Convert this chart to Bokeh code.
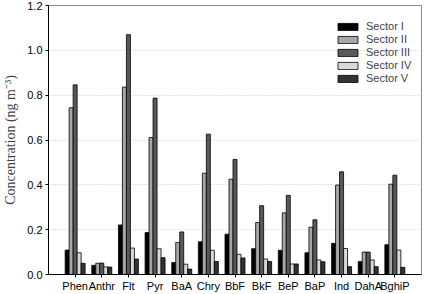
from bokeh.plotting import figure
from bokeh.models import ColumnDataSource, FixedTicker, Legend, LegendItem
from bokeh.transform import dodge
from bokeh.embed import file_html
from bokeh.resources import INLINE

# PAH species measured in each sector
compounds = ["Phen", "Anthr", "Flt", "Pyr", "BaA", "Chry", "BbF",
             "BkF", "BeP", "BaP", "Ind", "DahA", "BghiP"]
positions = list(range(1, len(compounds) + 1))

# Mean concentrations (ng m-3) per sector
sector_1 = [0.109, 0.041, 0.221, 0.187, 0.053, 0.146, 0.180, 0.115, 0.108, 0.097, 0.139, 0.058, 0.133]
sector_2 = [0.744, 0.050, 0.836, 0.611, 0.143, 0.452, 0.425, 0.232, 0.275, 0.211, 0.399, 0.100, 0.403]
sector_3 = [0.846, 0.051, 1.070, 0.787, 0.190, 0.626, 0.513, 0.307, 0.353, 0.244, 0.458, 0.100, 0.443]
sector_4 = [0.097, 0.034, 0.118, 0.115, 0.046, 0.108, 0.090, 0.069, 0.047, 0.065, 0.116, 0.065, 0.109]
sector_5 = [0.050, 0.033, 0.069, 0.075, 0.024, 0.058, 0.074, 0.058, 0.047, 0.057, 0.035, 0.035, 0.032]

sector_names = ["Sector I", "Sector II", "Sector III", "Sector IV", "Sector V"]
y_ticks = [0.0, 0.2, 0.4, 0.6, 0.8, 1.0, 1.2]

source = ColumnDataSource(dict(
    x=positions, s1=sector_1, s2=sector_2, s3=sector_3, s4=sector_4, s5=sector_5,
))

p = figure(width=425, height=294, x_range=(0, 14), y_range=(0, 1.2),
           output_backend="svg", toolbar_location=None,
           min_border_left=0, min_border_right=4, min_border_top=5, min_border_bottom=0)

fills = ["#000000", "#a6a6a6", "#595959", "#d9d9d9", "#333333"]
offsets = [-0.3, -0.15, 0.0, 0.15, 0.3]
fields = ["s1", "s2", "s3", "s4", "s5"]

items = []
for name, field, off, col in zip(sector_names, fields, offsets, fills):
    r = p.vbar(x=dodge("x", off), top=field, width=0.15, source=source,
               fill_color=col, line_color="#000000", line_width=0.8)
    items.append(LegendItem(label=name, renderers=[r]))

legend = Legend(items=items, location=(287, 190),
                glyph_width=25, glyph_height=9, label_height=9,
                spacing=1, padding=4, margin=0, label_standoff=6,
                label_text_font="Liberation Sans", label_text_font_size="11px",
                border_line_color=None, background_fill_alpha=0)
p.add_layout(legend)

# axes
p.xaxis.ticker = FixedTicker(ticks=positions)
p.xaxis.major_label_overrides = {i: c for i, c in zip(positions, compounds)}
p.yaxis.ticker = FixedTicker(ticks=y_ticks)
p.yaxis.major_label_overrides = {t: f"{t:.1f}" for t in y_ticks}

for ax in (p.xaxis, p.yaxis):
    ax.axis_line_color = "#000000"
    ax.major_tick_line_color = "#000000"
    ax.major_tick_out = 3
    ax.major_tick_in = 0
    ax.minor_tick_line_color = None
    ax.major_label_text_font = "Liberation Sans"
    ax.major_label_text_font_size = "11px"
    ax.major_label_text_color = "#000000"

p.xaxis.major_label_standoff = 2
p.yaxis.major_label_standoff = 3

p.yaxis.axis_label = "Concentration (ng m\u207b\u00b3)"
p.yaxis.axis_label_text_font = "Liberation Serif"
p.yaxis.axis_label_text_font_size = "14px"
p.yaxis.axis_label_text_font_style = "normal"
p.yaxis.axis_label_standoff = 6

p.xgrid.grid_line_color = None
p.ygrid.grid_line_color = "#c8c8c8"
p.ygrid.grid_line_dash = "1 2"

p.outline_line_color = "#8a8a8a"
p.outline_line_width = 1

open("out.html", "w").write(file_html(p, INLINE))
